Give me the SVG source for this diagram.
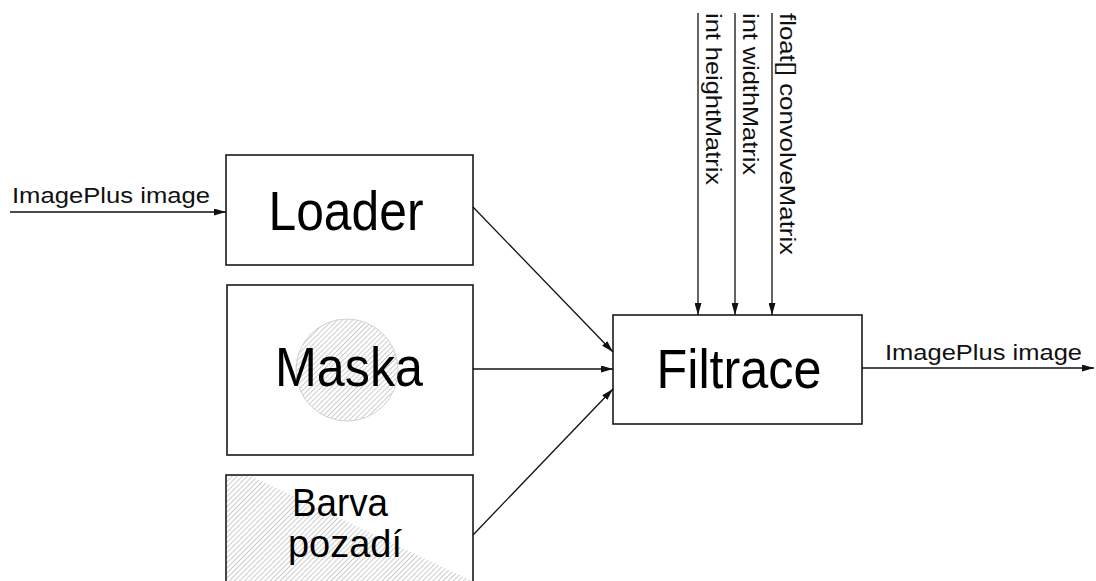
<svg xmlns="http://www.w3.org/2000/svg" width="1096" height="581" viewBox="0 0 1096 581">
<style>
.box{fill:#fff;stroke:#1a1a1a;stroke-width:1.6}
.node{font-family:"Liberation Sans",Arial,sans-serif;fill:#000}
.lbl{font-family:"Liberation Sans",Arial,sans-serif;fill:#111;font-size:22.5px}
.conn{stroke:#111;stroke-width:1.3;fill:none;marker-end:url(#ah)}
</style>
<defs>
<marker id="ah" viewBox="0 0 12 7" refX="12" refY="3.5" markerWidth="12" markerHeight="7" markerUnits="userSpaceOnUse" orient="auto">
<path d="M0,0 L12,3.5 L0,7 Z" fill="#111"/>
</marker>
<pattern id="hatch" patternUnits="userSpaceOnUse" width="3.6" height="4" patternTransform="rotate(45)">
<line x1="0.5" y1="0" x2="0.5" y2="4" stroke="#bdbdbd" stroke-width="0.8"/>
</pattern>
</defs>
<rect width="1096" height="581" fill="#fff"/>
<g id="loader">
<rect class="box" x="226" y="155" width="247" height="110"/>
<text class="node" x="346" y="230" font-size="56" text-anchor="middle" textLength="155" lengthAdjust="spacingAndGlyphs">Loader</text>
</g>
<g id="maska">
<rect class="box" x="227" y="285" width="246" height="170"/>
<circle cx="347" cy="370" r="51" fill="url(#hatch)" stroke="#d2d2d2" stroke-width="1"/>
<text class="node" x="349" y="386" font-size="56" text-anchor="middle" textLength="148" lengthAdjust="spacingAndGlyphs">Maska</text>
</g>
<g id="barva">
<rect class="box" x="226" y="475" width="247" height="120"/>
<polygon points="227,476 251,476 472,581 227,581" fill="url(#hatch)"/>
<text class="node" x="340" y="516" font-size="38" text-anchor="middle" textLength="96" lengthAdjust="spacingAndGlyphs">Barva</text>
<text class="node" x="345" y="557" font-size="38" text-anchor="middle" textLength="114" lengthAdjust="spacingAndGlyphs">pozadí</text>
</g>
<g id="filtrace">
<rect class="box" x="613" y="315" width="249" height="109"/>
<text class="node" x="739" y="388" font-size="56" text-anchor="middle" textLength="165" lengthAdjust="spacingAndGlyphs">Filtrace</text>
</g>
<g id="connectors">
<line class="conn" x1="10" y1="212" x2="226" y2="212"/>
<text class="lbl" x="12" y="203" textLength="198" lengthAdjust="spacingAndGlyphs">ImagePlus image</text>
<line class="conn" x1="473" y1="207" x2="613" y2="352"/>
<line class="conn" x1="473" y1="369" x2="613" y2="369"/>
<line class="conn" x1="473" y1="535" x2="613" y2="389"/>
<line class="conn" x1="862" y1="368" x2="1094" y2="368"/>
<text class="lbl" x="885" y="360" textLength="197" lengthAdjust="spacingAndGlyphs">ImagePlus image</text>
<line class="conn" x1="698" y1="13" x2="698" y2="315"/>
<line class="conn" x1="735" y1="13" x2="735" y2="315"/>
<line class="conn" x1="772" y1="13" x2="772" y2="315"/>
<text class="lbl" transform="translate(706,13) rotate(90)" textLength="172" lengthAdjust="spacingAndGlyphs">int heightMatrix</text>
<text class="lbl" transform="translate(743,13) rotate(90)" textLength="162" lengthAdjust="spacingAndGlyphs">int widthMatrix</text>
<text class="lbl" transform="translate(780,13) rotate(90)" textLength="242" lengthAdjust="spacingAndGlyphs">float[] convolveMatrix</text>
</g>
</svg>
